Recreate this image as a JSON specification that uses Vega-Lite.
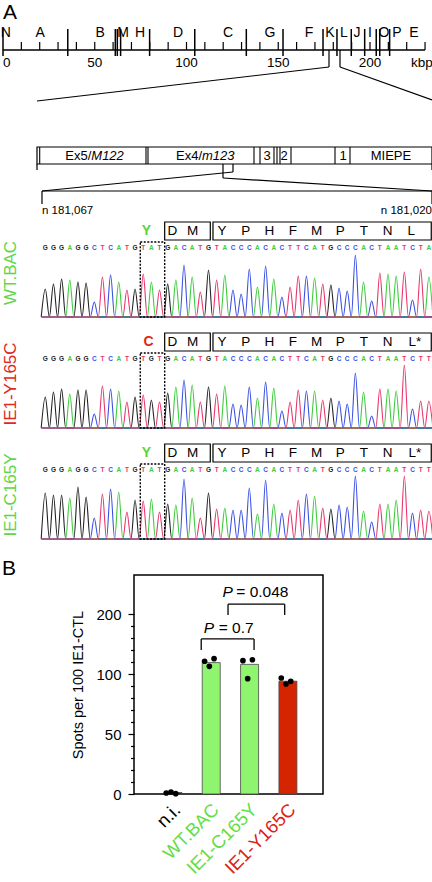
{
"$schema":"https://vega.github.io/schema/vega-lite/v6.json",
"padding":0,"spacing":0,"bounds":"flush",
"resolve":{"scale":{"color":"independent"}},
"config":{"font":"Liberation Sans","view":{"stroke":null},"axis":{"labelColor":"black","titleColor":"black","tickColor":"black","domainColor":"black"}},
"datasets":{
"trace":[
{"p":"WT.BAC","i":0,"b":"G","h":28},{"p":"WT.BAC","i":1,"b":"G","h":33},{"p":"WT.BAC","i":2,"b":"G","h":38},{"p":"WT.BAC","i":3,"b":"A","h":37},{"p":"WT.BAC","i":4,"b":"G","h":35},{"p":"WT.BAC","i":5,"b":"G","h":34},{"p":"WT.BAC","i":6,"b":"C","h":15},{"p":"WT.BAC","i":7,"b":"T","h":40},{"p":"WT.BAC","i":8,"b":"C","h":42},{"p":"WT.BAC","i":9,"b":"A","h":35},{"p":"WT.BAC","i":10,"b":"T","h":27},{"p":"WT.BAC","i":11,"b":"G","h":28},{"p":"WT.BAC","i":12,"b":"T","h":43},{"p":"WT.BAC","i":13,"b":"A","h":35},{"p":"WT.BAC","i":14,"b":"T","h":27},{"p":"WT.BAC","i":15,"b":"G","h":33},{"p":"WT.BAC","i":16,"b":"A","h":37},{"p":"WT.BAC","i":17,"b":"C","h":52},{"p":"WT.BAC","i":18,"b":"A","h":40},{"p":"WT.BAC","i":19,"b":"T","h":25},{"p":"WT.BAC","i":20,"b":"G","h":47},{"p":"WT.BAC","i":21,"b":"T","h":37},{"p":"WT.BAC","i":22,"b":"A","h":42},{"p":"WT.BAC","i":23,"b":"C","h":27},{"p":"WT.BAC","i":24,"b":"C","h":23},{"p":"WT.BAC","i":25,"b":"C","h":48},{"p":"WT.BAC","i":26,"b":"A","h":30},{"p":"WT.BAC","i":27,"b":"C","h":51},{"p":"WT.BAC","i":28,"b":"A","h":38},{"p":"WT.BAC","i":29,"b":"C","h":20},{"p":"WT.BAC","i":30,"b":"T","h":30},{"p":"WT.BAC","i":31,"b":"T","h":41},{"p":"WT.BAC","i":32,"b":"C","h":41},{"p":"WT.BAC","i":33,"b":"A","h":39},{"p":"WT.BAC","i":34,"b":"T","h":33},{"p":"WT.BAC","i":35,"b":"G","h":32},{"p":"WT.BAC","i":36,"b":"C","h":29},{"p":"WT.BAC","i":37,"b":"C","h":26},{"p":"WT.BAC","i":38,"b":"C","h":62},{"p":"WT.BAC","i":39,"b":"A","h":35},{"p":"WT.BAC","i":40,"b":"C","h":16},{"p":"WT.BAC","i":41,"b":"T","h":44},{"p":"WT.BAC","i":42,"b":"A","h":43},{"p":"WT.BAC","i":43,"b":"A","h":41},{"p":"WT.BAC","i":44,"b":"T","h":45},{"p":"WT.BAC","i":45,"b":"C","h":17},{"p":"WT.BAC","i":46,"b":"T","h":48},{"p":"WT.BAC","i":47,"b":"A","h":40},
{"p":"IE1-Y165C","i":0,"b":"G","h":31},{"p":"IE1-Y165C","i":1,"b":"G","h":36},{"p":"IE1-Y165C","i":2,"b":"G","h":39},{"p":"IE1-Y165C","i":3,"b":"A","h":34},{"p":"IE1-Y165C","i":4,"b":"G","h":38},{"p":"IE1-Y165C","i":5,"b":"G","h":38},{"p":"IE1-Y165C","i":6,"b":"C","h":14},{"p":"IE1-Y165C","i":7,"b":"T","h":42},{"p":"IE1-Y165C","i":8,"b":"C","h":39},{"p":"IE1-Y165C","i":9,"b":"A","h":37},{"p":"IE1-Y165C","i":10,"b":"T","h":26},{"p":"IE1-Y165C","i":11,"b":"G","h":31},{"p":"IE1-Y165C","i":12,"b":"T","h":33},{"p":"IE1-Y165C","i":13,"b":"G","h":28},{"p":"IE1-Y165C","i":14,"b":"T","h":26},{"p":"IE1-Y165C","i":15,"b":"G","h":35},{"p":"IE1-Y165C","i":16,"b":"A","h":41},{"p":"IE1-Y165C","i":17,"b":"C","h":48},{"p":"IE1-Y165C","i":18,"b":"A","h":43},{"p":"IE1-Y165C","i":19,"b":"T","h":26},{"p":"IE1-Y165C","i":20,"b":"G","h":41},{"p":"IE1-Y165C","i":21,"b":"T","h":34},{"p":"IE1-Y165C","i":22,"b":"A","h":42},{"p":"IE1-Y165C","i":23,"b":"C","h":24},{"p":"IE1-Y165C","i":24,"b":"C","h":23},{"p":"IE1-Y165C","i":25,"b":"C","h":41},{"p":"IE1-Y165C","i":26,"b":"A","h":30},{"p":"IE1-Y165C","i":27,"b":"C","h":46},{"p":"IE1-Y165C","i":28,"b":"A","h":40},{"p":"IE1-Y165C","i":29,"b":"C","h":17},{"p":"IE1-Y165C","i":30,"b":"T","h":26},{"p":"IE1-Y165C","i":31,"b":"T","h":38},{"p":"IE1-Y165C","i":32,"b":"C","h":37},{"p":"IE1-Y165C","i":33,"b":"A","h":37},{"p":"IE1-Y165C","i":34,"b":"T","h":28},{"p":"IE1-Y165C","i":35,"b":"G","h":30},{"p":"IE1-Y165C","i":36,"b":"C","h":27},{"p":"IE1-Y165C","i":37,"b":"C","h":24},{"p":"IE1-Y165C","i":38,"b":"C","h":55},{"p":"IE1-Y165C","i":39,"b":"A","h":36},{"p":"IE1-Y165C","i":40,"b":"C","h":12},{"p":"IE1-Y165C","i":41,"b":"T","h":39},{"p":"IE1-Y165C","i":42,"b":"A","h":39},{"p":"IE1-Y165C","i":43,"b":"A","h":37},{"p":"IE1-Y165C","i":44,"b":"T","h":63},{"p":"IE1-Y165C","i":45,"b":"C","h":19},{"p":"IE1-Y165C","i":46,"b":"T","h":27},{"p":"IE1-Y165C","i":47,"b":"T","h":27},
{"p":"IE1-C165Y","i":0,"b":"G","h":46},{"p":"IE1-C165Y","i":1,"b":"G","h":44},{"p":"IE1-C165Y","i":2,"b":"G","h":44},{"p":"IE1-C165Y","i":3,"b":"A","h":41},{"p":"IE1-C165Y","i":4,"b":"G","h":52},{"p":"IE1-C165Y","i":5,"b":"G","h":42},{"p":"IE1-C165Y","i":6,"b":"C","h":21},{"p":"IE1-C165Y","i":7,"b":"T","h":45},{"p":"IE1-C165Y","i":8,"b":"C","h":50},{"p":"IE1-C165Y","i":9,"b":"A","h":47},{"p":"IE1-C165Y","i":10,"b":"T","h":27},{"p":"IE1-C165Y","i":11,"b":"G","h":39},{"p":"IE1-C165Y","i":12,"b":"T","h":38},{"p":"IE1-C165Y","i":13,"b":"A","h":40},{"p":"IE1-C165Y","i":14,"b":"T","h":27},{"p":"IE1-C165Y","i":15,"b":"G","h":35},{"p":"IE1-C165Y","i":16,"b":"A","h":34},{"p":"IE1-C165Y","i":17,"b":"C","h":60},{"p":"IE1-C165Y","i":18,"b":"A","h":41},{"p":"IE1-C165Y","i":19,"b":"T","h":21},{"p":"IE1-C165Y","i":20,"b":"G","h":46},{"p":"IE1-C165Y","i":21,"b":"T","h":30},{"p":"IE1-C165Y","i":22,"b":"A","h":31},{"p":"IE1-C165Y","i":23,"b":"C","h":29},{"p":"IE1-C165Y","i":24,"b":"C","h":29},{"p":"IE1-C165Y","i":25,"b":"C","h":51},{"p":"IE1-C165Y","i":26,"b":"A","h":25},{"p":"IE1-C165Y","i":27,"b":"C","h":59},{"p":"IE1-C165Y","i":28,"b":"A","h":35},{"p":"IE1-C165Y","i":29,"b":"C","h":26},{"p":"IE1-C165Y","i":30,"b":"T","h":29},{"p":"IE1-C165Y","i":31,"b":"T","h":39},{"p":"IE1-C165Y","i":32,"b":"C","h":45},{"p":"IE1-C165Y","i":33,"b":"A","h":43},{"p":"IE1-C165Y","i":34,"b":"T","h":31},{"p":"IE1-C165Y","i":35,"b":"G","h":30},{"p":"IE1-C165Y","i":36,"b":"C","h":34},{"p":"IE1-C165Y","i":37,"b":"C","h":32},{"p":"IE1-C165Y","i":38,"b":"C","h":63},{"p":"IE1-C165Y","i":39,"b":"A","h":28},{"p":"IE1-C165Y","i":40,"b":"C","h":17},{"p":"IE1-C165Y","i":41,"b":"T","h":35},{"p":"IE1-C165Y","i":42,"b":"A","h":35},{"p":"IE1-C165Y","i":43,"b":"A","h":39},{"p":"IE1-C165Y","i":44,"b":"T","h":63},{"p":"IE1-C165Y","i":45,"b":"C","h":26},{"p":"IE1-C165Y","i":46,"b":"T","h":29},{"p":"IE1-C165Y","i":47,"b":"T","h":28}
],
"bars":[{"g":"n.i.","v":1.2},{"g":"WT.BAC","v":109.5},{"g":"IE1-C165Y","v":108},{"g":"IE1-Y165C","v":94}],
"spots":[{"g":"n.i.","r":1,"v":0.8},{"g":"n.i.","r":2,"v":1.7},{"g":"n.i.","r":3,"v":0.3},{"g":"WT.BAC","r":1,"v":110.6},{"g":"WT.BAC","r":2,"v":106.4},{"g":"WT.BAC","r":3,"v":112.8},{"g":"IE1-C165Y","r":1,"v":111.1},{"g":"IE1-C165Y","r":2,"v":96.1},{"g":"IE1-C165Y","r":3,"v":111.9},{"g":"IE1-Y165C","r":1,"v":96.7},{"g":"IE1-Y165C","r":2,"v":91.7},{"g":"IE1-Y165C","r":3,"v":93.9}]
},
"vconcat":[
{
"width":432,"height":206,
"encoding":{
"x":{"field":"x","type":"quantitative","scale":{"domain":[-0.545,234.88],"nice":false,"zero":false},"axis":null},
"y":{"field":"y","type":"quantitative","scale":{"domain":[0,206],"nice":false,"zero":false,"reverse":true},"axis":null}
},
"layer":[
{"data":{"values":[{"x":0,"y":18.5,"t":"A"}]},"mark":{"type":"text","align":"left","baseline":"alphabetic","fontSize":21,"color":"black"},"encoding":{"text":{"field":"t"}}},
{"data":{"values":[{"x":0,"y":50,"x2":230,"y2":50}]},"mark":{"type":"rule","strokeWidth":1.6,"color":"black"},"encoding":{"x2":{"field":"x2"},"y2":{"field":"y2"}}},
{"data":{"values":[{"x":10,"y":42},{"x":20,"y":42},{"x":30,"y":42},{"x":40,"y":42},{"x":50,"y":42},{"x":60,"y":42},{"x":70,"y":42},{"x":80,"y":42},{"x":90,"y":42},{"x":100,"y":42},{"x":110,"y":42},{"x":120,"y":42},{"x":130,"y":42},{"x":140,"y":42},{"x":150,"y":42},{"x":160,"y":42},{"x":170,"y":42},{"x":180,"y":42},{"x":190,"y":42},{"x":200,"y":42},{"x":210,"y":42},{"x":220,"y":42},{"x":230,"y":42}]},"mark":{"type":"rule","strokeWidth":1.2,"color":"black"},"encoding":{"y2":{"datum":50}}},
{"data":{"values":[{"x":0,"y":29},{"x":35.3,"y":29},{"x":61.2,"y":29},{"x":62.3,"y":29},{"x":64.1,"y":29},{"x":79.9,"y":29},{"x":104.5,"y":29},{"x":132.6,"y":29},{"x":152.6,"y":29},{"x":174.4,"y":29},{"x":182.0,"y":29},{"x":189.8,"y":29},{"x":197.1,"y":29},{"x":203.4,"y":29},{"x":205.3,"y":29},{"x":210.7,"y":29}]},"mark":{"type":"rule","strokeWidth":1.5,"color":"black"},"encoding":{"y2":{"datum":56}}},
{"data":{"values":[{"x":1.6,"y":33,"t":"N"},{"x":20.2,"y":33,"t":"A"},{"x":52.9,"y":33,"t":"B"},{"x":65.4,"y":33,"t":"M"},{"x":74.7,"y":33,"t":"H"},{"x":95.4,"y":33,"t":"D"},{"x":122.6,"y":33,"t":"C"},{"x":145.5,"y":33,"t":"G"},{"x":166.8,"y":33,"t":"F"},{"x":178.2,"y":33,"t":"K"},{"x":185.8,"y":33,"t":"L"},{"x":192.9,"y":33,"t":"J"},{"x":200,"y":33,"t":"I"},{"x":207.6,"y":33,"t":"O"},{"x":214.7,"y":33,"t":"P"},{"x":224,"y":33,"t":"E"}]},"mark":{"type":"text","fontSize":14,"color":"black"},"encoding":{"text":{"field":"t"}}},
{"data":{"values":[{"x":0,"y":63,"t":"0"}]},"mark":{"type":"text","fontSize":13.5,"align":"left","color":"black"},"encoding":{"text":{"field":"t"}}},
{"data":{"values":[{"x":50,"y":63,"t":"50"},{"x":100,"y":63,"t":"100"},{"x":150,"y":63,"t":"150"},{"x":200,"y":63,"t":"200"},{"x":228.3,"y":63,"t":"kbp"}]},"mark":{"type":"text","fontSize":13.5,"color":"black"},"encoding":{"text":{"field":"t"}}},
{"data":{"values":[{"x":177.66,"y":50,"x2":177.66,"y2":67},{"x":183.65,"y":50,"x2":183.65,"y2":67},{"x":177.66,"y":67,"x2":18.53,"y2":101},{"x":183.65,"y":67,"x2":233.79,"y2":100},{"x":18.53,"y":164,"x2":18.53,"y2":170},{"x":233.79,"y":164,"x2":233.79,"y2":170},{"x":119.89,"y":164,"x2":119.89,"y2":178},{"x":125.34,"y":164,"x2":125.34,"y2":172},{"x":125.34,"y":172,"x2":21.25,"y2":191},{"x":119.89,"y":178,"x2":233.79,"y2":191},{"x":21.25,"y":191,"x2":233.79,"y2":191},{"x":21.25,"y":191,"x2":21.25,"y2":204},{"x":233.79,"y":191,"x2":233.79,"y2":204}]},"mark":{"type":"rule","strokeWidth":1.2,"color":"black"},"encoding":{"x2":{"field":"x2"},"y2":{"field":"y2"}}},
{"data":{"values":[{"x":18.53,"y":147,"x2":233.79,"y2":164}]},"mark":{"type":"rect","filled":false,"color":"black","stroke":"black","strokeWidth":1.2},"encoding":{"x2":{"field":"x2"},"y2":{"field":"y2"}}},
{"data":{"values":[{"x":20.0,"y":147},{"x":77.93,"y":147},{"x":79.02,"y":147},{"x":136.78,"y":147},{"x":140.05,"y":147},{"x":147.68,"y":147},{"x":149.32,"y":147},{"x":150.95,"y":147},{"x":156.95,"y":147},{"x":180.93,"y":147},{"x":189.1,"y":147}]},"mark":{"type":"rule","strokeWidth":1.1,"color":"black"},"encoding":{"y2":{"datum":164}}},
{"data":{"values":[{"x":48.12,"y":155.5,"t":"Ex5/"},{"x":108.45,"y":155.5,"t":"Ex4/"}]},"mark":{"type":"text","align":"right","fontSize":13,"color":"black"},"encoding":{"text":{"field":"t"}}},
{"data":{"values":[{"x":48.12,"y":155.5,"t":"M122"},{"x":108.45,"y":155.5,"t":"m123"}]},"mark":{"type":"text","align":"left","fontSize":13,"fontStyle":"italic","color":"black"},"encoding":{"text":{"field":"t"}}},
{"data":{"values":[{"x":143.87,"y":155.5,"t":"3"},{"x":153.13,"y":155.5,"t":"2"},{"x":185.29,"y":155.5,"t":"1"},{"x":211.44,"y":155.5,"t":"MIEPE"}]},"mark":{"type":"text","fontSize":13,"color":"black"},"encoding":{"text":{"field":"t"}}}
]
},
{
"width":432,"height":111,
"layer":[
{"data":{"values":[{"i":-0.4,"i2":47.8}]},"mark":{"type":"rule","color":"#a6e3a0","strokeWidth":2},"encoding":{"x":{"field":"i","type":"quantitative","scale":{"domain":[-5.306,47.635],"nice":false,"zero":false},"axis":null},"x2":{"field":"i2"},"y":{"datum":0,"type":"quantitative","scale":{"domain":[0,111],"nice":false,"zero":false},"axis":null}}},
{"data":{"name":"trace"},"transform":[{"filter":"datum.p == 'WT.BAC'"},{"impute":"h","key":"i","keyvals":[-0.5,0.5,1.5,2.5,3.5,4.5,5.5,6.5,7.5,8.5,9.5,10.5,11.5,12.5,13.5,14.5,15.5,16.5,17.5,18.5,19.5,20.5,21.5,22.5,23.5,24.5,25.5,26.5,27.5,28.5,29.5,30.5,31.5,32.5,33.5,34.5,35.5,36.5,37.5,38.5,39.5,40.5,41.5,42.5,43.5,44.5,45.5,46.5,47.5],"groupby":["b"],"value":0}],"mark":{"type":"line","interpolate":"monotone","strokeWidth":1.1},"encoding":{"x":{"field":"i","type":"quantitative","scale":{"domain":[-5.306,47.635],"nice":false,"zero":false},"axis":null},"y":{"field":"h","type":"quantitative","scale":{"domain":[0,111],"nice":false,"zero":false},"axis":null},"color":{"field":"b","type":"nominal","scale":{"domain":["G","A","T","C"],"range":["#222222","#3dcc3d","#e8366a","#3b50e3"]},"legend":null}}},
{"data":{"name":"trace"},"transform":[{"filter":"datum.p == 'WT.BAC'"}],"mark":{"type":"text","fontSize":6.5,"fontWeight":"bold"},"encoding":{"x":{"field":"i","type":"quantitative","axis":null},"y":{"datum":69.5,"type":"quantitative","axis":null},"text":{"field":"b"},"color":{"field":"b","type":"nominal","legend":null}}},
{"data":{"values":[{"i":11.64,"i2":14.63}]},"mark":{"type":"rect","filled":false,"color":"black","stroke":"black","strokeWidth":1.4,"strokeDash":[2,1.5]},"encoding":{"x":{"field":"i","type":"quantitative","axis":null},"x2":{"field":"i2"},"y":{"datum":75,"type":"quantitative","axis":null},"y2":{"datum":0}}},
{"data":{"values":[{"i":14.63,"i2":20.22},{"i":20.55,"i2":47.3}]},"mark":{"type":"rect","filled":false,"color":"black","stroke":"black","strokeWidth":1.2},"encoding":{"x":{"field":"i","type":"quantitative","axis":null},"x2":{"field":"i2"},"y":{"datum":77,"type":"quantitative","axis":null},"y2":{"datum":95}}},
{"data":{"values":[{"i":15.56,"aa":"D"},{"i":18.07,"aa":"M"},{"i":21.65,"aa":"Y"},{"i":24.55,"aa":"P"},{"i":27.45,"aa":"H"},{"i":30.35,"aa":"F"},{"i":33.25,"aa":"M"},{"i":36.15,"aa":"P"},{"i":39.05,"aa":"T"},{"i":41.95,"aa":"N"},{"i":44.85,"aa":"L"}]},"mark":{"type":"text","fontSize":13.5,"color":"black"},"encoding":{"x":{"field":"i","type":"quantitative","axis":null},"y":{"datum":86,"type":"quantitative","axis":null},"text":{"field":"aa"}}},
{"data":{"values":[{"i":12.38,"aa":"Y"}]},"mark":{"type":"text","fontSize":14,"fontWeight":"bold","color":"#5cd43a"},"encoding":{"x":{"field":"i","type":"quantitative","axis":null},"y":{"datum":86,"type":"quantitative","axis":null},"text":{"field":"aa"}}},
{"data":{"values":[{"i":-4.2,"name":"WT.BAC"}]},"mark":{"type":"text","angle":270,"fontSize":17,"color":"#62d64a"},"encoding":{"x":{"field":"i","type":"quantitative","axis":null},"y":{"datum":44,"type":"quantitative","axis":null},"text":{"field":"name"}}},
{"data":{"values":[{"i":-0.4,"t":"n 181,067"}]},"mark":{"type":"text","align":"left","fontSize":11.5,"color":"black"},"encoding":{"x":{"field":"i","type":"quantitative","axis":null},"y":{"datum":106,"type":"quantitative","axis":null},"text":{"field":"t"}}},
{"data":{"values":[{"i":47.39,"t":"n 181,020"}]},"mark":{"type":"text","align":"right","fontSize":11.5,"color":"black"},"encoding":{"x":{"field":"i","type":"quantitative","axis":null},"y":{"datum":106,"type":"quantitative","axis":null},"text":{"field":"t"}}}
]
},
{
"width":432,"height":111,
"layer":[
{"data":{"values":[{"i":-0.4,"i2":47.8}]},"mark":{"type":"rule","color":"#a6e3a0","strokeWidth":2},"encoding":{"x":{"field":"i","type":"quantitative","scale":{"domain":[-5.306,47.635],"nice":false,"zero":false},"axis":null},"x2":{"field":"i2"},"y":{"datum":0,"type":"quantitative","scale":{"domain":[0,111],"nice":false,"zero":false},"axis":null}}},
{"data":{"name":"trace"},"transform":[{"filter":"datum.p == 'IE1-Y165C'"},{"impute":"h","key":"i","keyvals":[-0.5,0.5,1.5,2.5,3.5,4.5,5.5,6.5,7.5,8.5,9.5,10.5,11.5,12.5,13.5,14.5,15.5,16.5,17.5,18.5,19.5,20.5,21.5,22.5,23.5,24.5,25.5,26.5,27.5,28.5,29.5,30.5,31.5,32.5,33.5,34.5,35.5,36.5,37.5,38.5,39.5,40.5,41.5,42.5,43.5,44.5,45.5,46.5,47.5],"groupby":["b"],"value":0}],"mark":{"type":"line","interpolate":"monotone","strokeWidth":1.1},"encoding":{"x":{"field":"i","type":"quantitative","scale":{"domain":[-5.306,47.635],"nice":false,"zero":false},"axis":null},"y":{"field":"h","type":"quantitative","scale":{"domain":[0,111],"nice":false,"zero":false},"axis":null},"color":{"field":"b","type":"nominal","scale":{"domain":["G","A","T","C"],"range":["#222222","#3dcc3d","#e8366a","#3b50e3"]},"legend":null}}},
{"data":{"name":"trace"},"transform":[{"filter":"datum.p == 'IE1-Y165C'"}],"mark":{"type":"text","fontSize":6.5,"fontWeight":"bold"},"encoding":{"x":{"field":"i","type":"quantitative","axis":null},"y":{"datum":69.5,"type":"quantitative","axis":null},"text":{"field":"b"},"color":{"field":"b","type":"nominal","legend":null}}},
{"data":{"values":[{"i":11.64,"i2":14.63}]},"mark":{"type":"rect","filled":false,"color":"black","stroke":"black","strokeWidth":1.4,"strokeDash":[2,1.5]},"encoding":{"x":{"field":"i","type":"quantitative","axis":null},"x2":{"field":"i2"},"y":{"datum":75,"type":"quantitative","axis":null},"y2":{"datum":0}}},
{"data":{"values":[{"i":14.63,"i2":20.22},{"i":20.55,"i2":47.3}]},"mark":{"type":"rect","filled":false,"color":"black","stroke":"black","strokeWidth":1.2},"encoding":{"x":{"field":"i","type":"quantitative","axis":null},"x2":{"field":"i2"},"y":{"datum":77,"type":"quantitative","axis":null},"y2":{"datum":95}}},
{"data":{"values":[{"i":15.56,"aa":"D"},{"i":18.07,"aa":"M"},{"i":21.65,"aa":"Y"},{"i":24.55,"aa":"P"},{"i":27.45,"aa":"H"},{"i":30.35,"aa":"F"},{"i":33.25,"aa":"M"},{"i":36.15,"aa":"P"},{"i":39.05,"aa":"T"},{"i":41.95,"aa":"N"},{"i":45.3,"aa":"L*"}]},"mark":{"type":"text","fontSize":13.5,"color":"black"},"encoding":{"x":{"field":"i","type":"quantitative","axis":null},"y":{"datum":86,"type":"quantitative","axis":null},"text":{"field":"aa"}}},
{"data":{"values":[{"i":12.67,"aa":"C"}]},"mark":{"type":"text","fontSize":14,"fontWeight":"bold","color":"#dd2a14"},"encoding":{"x":{"field":"i","type":"quantitative","axis":null},"y":{"datum":86,"type":"quantitative","axis":null},"text":{"field":"aa"}}},
{"data":{"values":[{"i":-4.2,"name":"IE1-Y165C"}]},"mark":{"type":"text","angle":270,"fontSize":17,"color":"#e0281e"},"encoding":{"x":{"field":"i","type":"quantitative","axis":null},"y":{"datum":44,"type":"quantitative","axis":null},"text":{"field":"name"}}}
]
},
{
"width":432,"height":111,
"layer":[
{"data":{"values":[{"i":-0.4,"i2":47.8}]},"mark":{"type":"rule","color":"#a6e3a0","strokeWidth":2},"encoding":{"x":{"field":"i","type":"quantitative","scale":{"domain":[-5.306,47.635],"nice":false,"zero":false},"axis":null},"x2":{"field":"i2"},"y":{"datum":0,"type":"quantitative","scale":{"domain":[0,111],"nice":false,"zero":false},"axis":null}}},
{"data":{"name":"trace"},"transform":[{"filter":"datum.p == 'IE1-C165Y'"},{"impute":"h","key":"i","keyvals":[-0.5,0.5,1.5,2.5,3.5,4.5,5.5,6.5,7.5,8.5,9.5,10.5,11.5,12.5,13.5,14.5,15.5,16.5,17.5,18.5,19.5,20.5,21.5,22.5,23.5,24.5,25.5,26.5,27.5,28.5,29.5,30.5,31.5,32.5,33.5,34.5,35.5,36.5,37.5,38.5,39.5,40.5,41.5,42.5,43.5,44.5,45.5,46.5,47.5],"groupby":["b"],"value":0}],"mark":{"type":"line","interpolate":"monotone","strokeWidth":1.1},"encoding":{"x":{"field":"i","type":"quantitative","scale":{"domain":[-5.306,47.635],"nice":false,"zero":false},"axis":null},"y":{"field":"h","type":"quantitative","scale":{"domain":[0,111],"nice":false,"zero":false},"axis":null},"color":{"field":"b","type":"nominal","scale":{"domain":["G","A","T","C"],"range":["#222222","#3dcc3d","#e8366a","#3b50e3"]},"legend":null}}},
{"data":{"name":"trace"},"transform":[{"filter":"datum.p == 'IE1-C165Y'"}],"mark":{"type":"text","fontSize":6.5,"fontWeight":"bold"},"encoding":{"x":{"field":"i","type":"quantitative","axis":null},"y":{"datum":69.5,"type":"quantitative","axis":null},"text":{"field":"b"},"color":{"field":"b","type":"nominal","legend":null}}},
{"data":{"values":[{"i":11.64,"i2":14.63}]},"mark":{"type":"rect","filled":false,"color":"black","stroke":"black","strokeWidth":1.4,"strokeDash":[2,1.5]},"encoding":{"x":{"field":"i","type":"quantitative","axis":null},"x2":{"field":"i2"},"y":{"datum":75,"type":"quantitative","axis":null},"y2":{"datum":0}}},
{"data":{"values":[{"i":14.63,"i2":20.22},{"i":20.55,"i2":47.3}]},"mark":{"type":"rect","filled":false,"color":"black","stroke":"black","strokeWidth":1.2},"encoding":{"x":{"field":"i","type":"quantitative","axis":null},"x2":{"field":"i2"},"y":{"datum":77,"type":"quantitative","axis":null},"y2":{"datum":95}}},
{"data":{"values":[{"i":15.56,"aa":"D"},{"i":18.07,"aa":"M"},{"i":21.65,"aa":"Y"},{"i":24.55,"aa":"P"},{"i":27.45,"aa":"H"},{"i":30.35,"aa":"F"},{"i":33.25,"aa":"M"},{"i":36.15,"aa":"P"},{"i":39.05,"aa":"T"},{"i":41.95,"aa":"N"},{"i":45.3,"aa":"L*"}]},"mark":{"type":"text","fontSize":13.5,"color":"black"},"encoding":{"x":{"field":"i","type":"quantitative","axis":null},"y":{"datum":86,"type":"quantitative","axis":null},"text":{"field":"aa"}}},
{"data":{"values":[{"i":12.38,"aa":"Y"}]},"mark":{"type":"text","fontSize":14,"fontWeight":"bold","color":"#5cd43a"},"encoding":{"x":{"field":"i","type":"quantitative","axis":null},"y":{"datum":86,"type":"quantitative","axis":null},"text":{"field":"aa"}}},
{"data":{"values":[{"i":-4.2,"name":"IE1-C165Y"}]},"mark":{"type":"text","angle":270,"fontSize":17,"color":"#62d64a"},"encoding":{"x":{"field":"i","type":"quantitative","axis":null},"y":{"datum":44,"type":"quantitative","axis":null},"text":{"field":"name"}}}
]
},
{
"width":432,"height":36,
"data":{"values":[{"t":"B"}]},
"mark":{"type":"text","align":"left","baseline":"alphabetic","fontSize":21,"color":"black"},
"encoding":{"text":{"field":"t"},"x":{"datum":0,"type":"quantitative","scale":{"domain":[0,432]},"axis":null},"y":{"datum":0,"type":"quantitative","scale":{"domain":[0,36]},"axis":null}}
},
{
"resolve":{"scale":{"color":"independent"}},
"hconcat":[
{"width":132,"height":219,"data":{"values":[{"t":""}]},"mark":{"type":"text"},"encoding":{"text":{"field":"t"}}},
{
"width":189,"height":219,
"view":{"stroke":"black","strokeWidth":1.5},
"encoding":{"y":{"field":"v","type":"quantitative","scale":{"domain":[0,182.5],"nice":false,"zero":false},"axis":{"values":[0,10,20,30,40,50,60,70,80,90,100,110,120,130,140,150],"labelExpr":"datum.value == 150 ? '200' : (datum.value % 50 == 0 ? datum.label : '')","tickSize":{"condition":{"test":"datum.value % 50 == 0","value":6},"value":3.5},"tickWidth":1.2,"domain":false,"grid":false,"labelFontSize":15,"labelPadding":7,"title":"Spots per 100 IE1-CTL","titleFontSize":14.5,"titleFontWeight":"normal","titlePadding":10}}},
"layer":[
{"data":{"name":"bars"},"mark":{"type":"bar","stroke":"#4a4a4a","strokeWidth":0.8},"encoding":{"x":{"field":"g","type":"nominal","scale":{"type":"band","domain":["n.i.","WT.BAC","IE1-C165Y","IE1-Y165C"],"paddingInner":0.63,"paddingOuter":0.78},"axis":{"title":null,"domain":false,"ticks":false,"labelAngle":-45,"labelFontSize":18.5,"labelPadding":6,"labelColor":{"condition":[{"test":"datum.value == 'n.i.'","value":"black"},{"test":"datum.value == 'IE1-Y165C'","value":"#dd2211"}],"value":"#66dd44"}}},"color":{"field":"g","type":"nominal","scale":{"domain":["n.i.","WT.BAC","IE1-C165Y","IE1-Y165C"],"range":["#111111","#8ff56e","#8ff56e","#d42400"]},"legend":null}}},
{"data":{"name":"spots"},"mark":{"type":"circle","size":32,"color":"black","opacity":1},"encoding":{"x":{"field":"g","type":"nominal","scale":{"type":"band","domain":["n.i.","WT.BAC","IE1-C165Y","IE1-Y165C"],"paddingInner":0.63,"paddingOuter":0.78},"axis":null},"xOffset":{"field":"r","type":"nominal"}}},
{"data":{"values":[{"x":0.79,"v":129.2,"x2":2.17,"v2":129.2},{"x":0.79,"v":129.2,"x2":0.79,"v2":120},{"x":2.17,"v":129.2,"x2":2.17,"v2":120},{"x":1.49,"v":158.2,"x2":2.97,"v2":158.2},{"x":1.49,"v":158.2,"x2":1.49,"v2":149.2},{"x":2.97,"v":158.2,"x2":2.97,"v2":149.2}]},"mark":{"type":"rule","strokeWidth":1.3,"color":"black"},"encoding":{"x":{"field":"x","type":"quantitative","scale":{"domain":[-0.965,3.97],"nice":false,"zero":false},"axis":null},"x2":{"field":"x2"},"y2":{"field":"v2"}}},
{"data":{"values":[{"x":0.99,"v":138.3,"t":"P"},{"x":1.484,"v":168.3,"t":"P"}]},"mark":{"type":"text","fontSize":15.5,"fontStyle":"italic","color":"black"},"encoding":{"x":{"field":"x","type":"quantitative","scale":{"domain":[-0.965,3.97],"nice":false,"zero":false},"axis":null},"text":{"field":"t"}}},
{"data":{"values":[{"x":1.247,"v":138.3,"t":"= 0.7"},{"x":1.706,"v":168.3,"t":"= 0.048"}]},"mark":{"type":"text","fontSize":15.5,"align":"left","color":"black"},"encoding":{"x":{"field":"x","type":"quantitative","scale":{"domain":[-0.965,3.97],"nice":false,"zero":false},"axis":null},"text":{"field":"t"}}}
],
"resolve":{"scale":{"x":"independent","color":"independent"}}
}
],
"spacing":0,"bounds":"flush"
}
]
}
